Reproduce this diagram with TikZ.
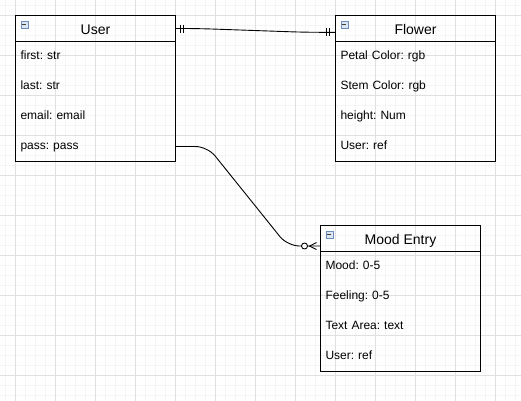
\documentclass[tikz,border=0pt]{standalone}
\usepackage{fontspec}
\setmainfont{Liberation Sans}
\usepackage{tikz}
\usetikzlibrary{positioning}
\frenchspacing

\definecolor{gridmajor}{HTML}{E0E0E0}
\definecolor{gridminor}{HTML}{F5F5F5}
\definecolor{iconfill}{HTML}{DCE6F0}
\definecolor{icondraw}{HTML}{6C8EBF}

\begin{document}
\begin{tikzpicture}[
    x=1pt, y=1pt,
    head/.style={
        rectangle,
        draw=black, line width=1pt,
        text centered,
        minimum width=160pt,
        minimum height=26pt,
        inner sep=0pt, outer sep=0pt,
        font=\fontsize{14}{16}\selectfont,
        text height=11pt, text depth=0pt
    },
    field/.style={
        rectangle,
        inner xsep=5pt, inner ysep=0pt, outer sep=0pt,
        text width=150pt, align=left,
        minimum height=30pt,
        font=\fontsize{12}{14}\selectfont,
        text height=8pt, text depth=3pt
    },
    icon/.style={
        rectangle, anchor=north west,
        draw=icondraw, fill=iconfill, line width=0.6pt,
        minimum size=7pt, inner sep=0pt,
        path picture={\draw[line width=0.9pt, black!75]
            ([xshift=1.5pt]path picture bounding box.west) --
            ([xshift=-1.5pt]path picture bounding box.east);}
    },
    rel/.style={draw=black, line width=0.9pt}
]

\useasboundingbox (0,0) rectangle (521,-400);

% background grid
\begin{scope}
\clip (0,0) rectangle (521,-400);
\draw[gridminor, line width=0.8pt, step=10pt, shift={(5.5pt,-5.5pt)}] (-10,10) grid (530,-410);
\draw[gridmajor, line width=1pt, step=40pt, shift={(15.5pt,-15.5pt)}] (-40,40) grid (560,-440);
\end{scope}

% User
\node[head] (user) at (95.5,-28.5) {User};
\node[field, below=0pt of user] (user1) {first: str};
\node[field, below=0pt of user1] (user2) {last: str};
\node[field, below=0pt of user2] (user3) {email: email};
\node[field, below=0pt of user3] (user4) {pass: pass};
\draw[line width=1pt] (user.south west) rectangle (user4.south east);
\node[icon] (usericon) at ([xshift=5pt,yshift=-5pt]user.north west) {};

% Flower
\node[head, right=160pt of user] (flower) {Flower};
\node[field, below=0pt of flower] (flower1) {Petal Color: rgb};
\node[field, below=0pt of flower1] (flower2) {Stem Color: rgb};
\node[field, below=0pt of flower2] (flower3) {height: Num};
\node[field, below=0pt of flower3] (flower4) {User: ref};
\draw[line width=1pt] (flower.south west) rectangle (flower4.south east);
\node[icon] (flowericon) at ([xshift=5pt,yshift=-5pt]flower.north west) {};

% Mood Entry
\node[head] (mood) at (400.5,-238.5) {Mood Entry};
\node[field, below=0pt of mood] (mood1) {Mood: 0-5};
\node[field, below=0pt of mood1] (mood2) {Feeling: 0-5};
\node[field, below=0pt of mood2] (mood3) {Text Area: text};
\node[field, below=0pt of mood3] (mood4) {User: ref};
\draw[line width=1pt] (mood.south west) rectangle (mood4.south east);
\node[icon] (moodicon) at ([xshift=5pt,yshift=-5pt]mood.north west) {};

% relations
\coordinate (flowerin) at ([yshift=-3.8pt]flower.west);
\coordinate (moodin) at ([yshift=-7.5pt]mood.west);

\draw[rel, rounded corners=15pt] (user.east) -- ++(22,0) -- ([xshift=-30pt]flowerin) -- (flowerin);
\draw[rel] ([xshift=4.5pt,yshift=4pt]user.east) -- ++(0,-8);
\draw[rel] ([xshift=8pt,yshift=4pt]user.east) -- ++(0,-8);
\draw[rel] ([xshift=-9.5pt,yshift=4pt]flowerin) -- ++(0,-8);
\draw[rel] ([xshift=-6pt,yshift=4pt]flowerin) -- ++(0,-8);

\draw[rel, rounded corners=12pt] (user4.east) -- ++(32,0) -- ([xshift=-33pt]moodin) -- (moodin);
\draw[rel, fill=white] ([xshift=-16pt]moodin) circle (3pt);
\draw[rel] ([xshift=-4pt,yshift=3.5pt]moodin) -- ([xshift=-11pt]moodin) -- ([xshift=-4pt,yshift=-3.5pt]moodin);

\end{tikzpicture}
\end{document}
